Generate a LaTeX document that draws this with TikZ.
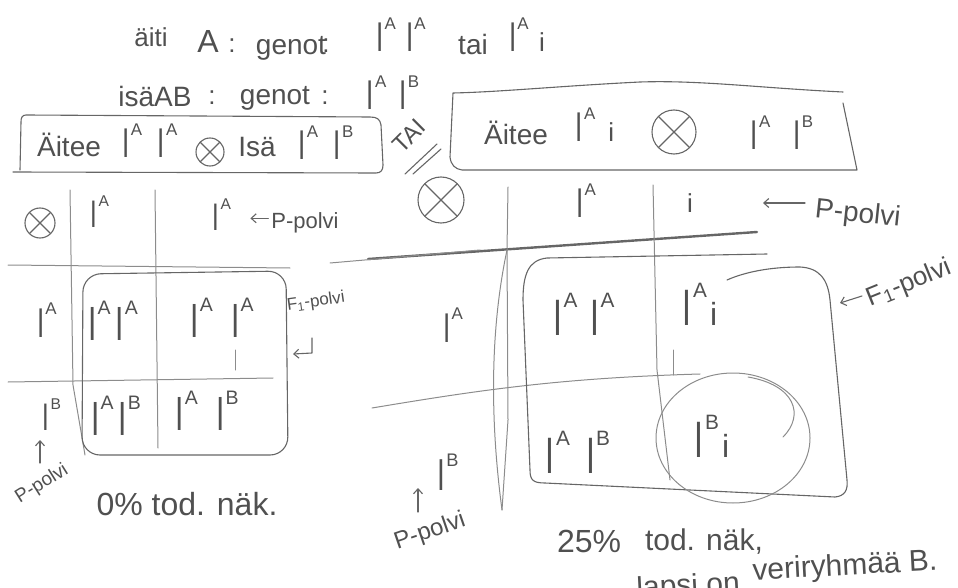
\documentclass[tikz,border=0pt]{standalone}
\usepackage{graphicx}
\usepackage{fontspec}
\setmainfont{Liberation Sans}
\usetikzlibrary{arrows.meta}
\definecolor{ink}{HTML}{505050}
\definecolor{lead}{HTML}{666666}
\definecolor{faint}{HTML}{8C8C8C}
\newcommand\Al[1]{\scalebox{1}[1.6]{I}\kern0.04em\raisebox{0.85em}{\scalebox{0.65}{#1}}}
\newcommand\fs[1]{\fontsize{#1}{#1}\selectfont}
\begin{document}
\begin{tikzpicture}[x=1pt,y=-1pt,
  every node/.style={text=ink,inner sep=0pt,outer sep=0pt},
  w/.style={anchor=base,font=\fs{#1}},
  pen/.style={draw=lead,line width=1.1pt,line cap=round,line join=round},
  grid/.style={draw=faint,line width=1pt,line cap=round,line join=round},
  arr/.style={pen,-{Straight Barb[length=5pt,width=9pt]}},
  otimes/.style={circle,draw=lead,line width=1.1pt,minimum size=#1,
    path picture={\draw[lead,line width=1.1pt]
      (path picture bounding box.north west)--(path picture bounding box.south east)
      (path picture bounding box.north east)--(path picture bounding box.south west);}}
]
\useasboundingbox (0,0) rectangle (958,588);

% ---- top lines
\node[w=26] (t1a) at (151,47) {äiti};
\node[w=32] (t1b) at (208,53) {A};
\node[w=26] (t1c) at (232,53) {:};
\node[w=28] (t1d) at (291,55) {genot};
\node[w=26] (t1e) at (326,53) {:};
\node[w=26] (t1f) at (401,52) {\Al{A}\hspace{0.4em}\Al{A}};
\node[w=28] (t1g) at (473,55) {tai};
\node[w=26] (t1h) at (527,52) {\Al{A}\hspace{0.4em}i};

\node[w=28] (t2a) at (155,107) {isäAB};
\node[w=26] (t2b) at (212,105) {:};
\node[w=28] (t2c) at (275,105) {genot};
\node[w=26] (t2d) at (325,105) {:};
\node[w=26] (t2e) at (393,110) {\Al{A}\hspace{0.5em}\Al{B}};

% ---- left box
\draw[pen] (13,172) -- (376,173) .. controls (381,173) and (383,170) .. (383,165)
  -- (381,125) .. controls (380,119) and (377,117) .. (370,117) -- (26,115)
  .. controls (22,115) and (21,118) .. (21,122) -- (20,170);
\node[w=28] (lb1) at (69,157) {Äitee};
\node[w=26] (lb2) at (150,158) {\Al{A}\hspace{0.6em}\Al{A}};
\node[otimes=28pt] (lbx) at (210,152) {};
\node[w=28] (lb3) at (257,157) {Isä};
\node[w=26] (lb4) at (326,160) {\Al{A}\hspace{0.6em}\Al{B}};

% ---- TAI
\node[font=\fs{24},rotate=45] (tai) at (409,136) {TAI};
\coordinate (s1a) at (405,174); \coordinate (s1b) at (437,144);
\coordinate (s2a) at (413,174); \coordinate (s2b) at (441,149);
\draw[pen] (s1a) -- (s1b) (s2a) -- (s2b);

% ---- right box
\draw[pen] (843,92) .. controls (760,88) and (700,80) .. (640,82)
  .. controls (560,86) and (500,92) .. (453,93) -- (450,157)
  .. controls (451,165) and (455,169) .. (462,170) -- (857,170) -- (843,103);
\node[w=28] (rb1) at (516,145) {Äitee};
\node[w=26] (rb2) at (595,142) {\Al{A}\hspace{0.5em}i};
\node[otimes=44pt] (rbx) at (674,132) {};
\node[w=26] (rb3) at (782,150) {\Al{A}\hspace{0.9em}\Al{B}};

% ---- left Punnett square
\draw[grid] (70,190) -- (73,385) -- (85,455);
\draw[grid] (155,190) -- (158,448);
\draw[grid] (8,265) -- (290,268);
\draw[grid] (8,382) -- (273,378);
\draw[pen,rounded corners=18pt] (83,274) -- (286,271) -- (288,455) -- (82,455) -- cycle;
\node[otimes=30pt] (lx) at (40,223) {};
\node[w=24] (lh1) at (100,227) {\Al{A}};
\node[w=24] (lh2) at (222,230) {\Al{A}};
\node[w=22] (lp) at (305,228) {P-polvi};
\draw[arr] (lp.west) ++(-3,-4) -- ++(-18,0);
\node[w=26] (lr1) at (47,337) {\Al{A}};
\node[w=24] (lr2) at (52,430) {\Al{B}};
\node[w=30] (lc11) at (113,340) {\Al{A}\hspace{0.15em}\Al{A}};
\node[w=30] (lc12) at (222,337) {\Al{A}\hspace{0.6em}\Al{A}};
\node[w=30] (lc21) at (116,435) {\Al{A}\hspace{0.15em}\Al{B}};
\node[w=30] (lc22) at (207,430) {\Al{A}\hspace{0.6em}\Al{B}};
\draw[grid] (235,350) -- (235,370);
\node[font=\fs{17},rotate=8] (lf) at (316,302) {F\textsubscript{1}-polvi};
\coordinate (lha) at (312,338); \coordinate (lhb) at (312,353); \coordinate (lhc) at (293,354);
\draw[arr] (lha) -- (lhb) -- (lhc);
\node[font=\fs{19},rotate=32] (lpp) at (42,484) {P-polvi};
\coordinate (lua) at (40,463); \coordinate (lub) at (40,440);
\draw[arr] (lua) -- (lub);
\node[w=32] (lz) at (187,515) {0\% tod. näk.};

% ---- right Punnett square
\draw[draw=lead,line width=2.4pt,line cap=round] (368,259) -- (757,232);
\draw[grid] (330,263) -- (480,250);
\draw[grid] (508,187) -- (507,250) .. controls (490,330) and (490,420) .. (502,510);
\draw[grid] (507,250) -- (508,420) -- (502,510);
\draw[grid] (653,185) -- (657,370) -- (670,480);
\draw[grid] (372,408) .. controls (480,390) and (560,378) .. (700,374);
\draw[pen] (767,254) -- (547,258) .. controls (528,260) and (523,275) .. (523,300)
  -- (530,470) .. controls (530,480) and (533,483) .. (545,483) -- (835,497)
  .. controls (845,496) and (848,490) .. (847,480) -- (830,300)
  .. controls (828,280) and (820,268) .. (800,267) .. controls (770,267) and (745,272) .. (727,280);
\draw[grid] (733,438) ellipse [x radius=77pt, y radius=65pt];
\draw[grid] (783,437) .. controls (805,415) and (795,385) .. (748,377);
\node[otimes=46pt] (rx) at (441,200) {};
\node[w=26] (rh1) at (586,218) {\Al{A}};
\node[w=26] (rh2) at (690,213) {i};
\node[w=28,rotate=-6] (rp) at (857,222) {P-polvi};
\coordinate (rpa) at (805,203); \coordinate (rpb) at (763,203);
\draw[arr] (rpa) -- (rpb);
\node[w=26] (rr1) at (453,342) {\Al{A}};
\node[w=28] (rr2) at (448,490) {\Al{B}};
\node[w=32] (rc11) at (584,335) {\Al{A}\hspace{0.4em}\Al{A}};
\node[w=32] (rc12) at (700,325) {\Al{A}\hspace{0.1em}i};
\node[w=32] (rc21) at (578,473) {\Al{A}\hspace{0.5em}\Al{B}};
\node[w=32] (rc22) at (712,457) {\Al{B}\hspace{0.1em}i};
\draw[grid] (673,350) -- (673,375);
\node[font=\fs{26},rotate=22,anchor=west] (rf) at (868,300) {F\textsubscript{1}-polvi};
\coordinate (rfa) at (862,296); \coordinate (rfb) at (840,303);
\draw[arr] (rfa) -- (rfb);
\node[font=\fs{24},rotate=19] (rpp) at (430,532) {P-polvi};
\coordinate (rua) at (418,512); \coordinate (rub) at (418,488);
\draw[arr] (rua) -- (rub);
\node[w=32,anchor=base west] (r25) at (557,552) {25\%};
\node[w=30,anchor=base west] (rtn) at (645,550) {tod. näk,};
\node[w=30,anchor=base west,rotate=3] (rl1) at (637,598) {lapsi on};
\node[w=30,anchor=base west,rotate=3] (rl2) at (753,580) {veriryhmää B.};
\end{tikzpicture}
\end{document}
